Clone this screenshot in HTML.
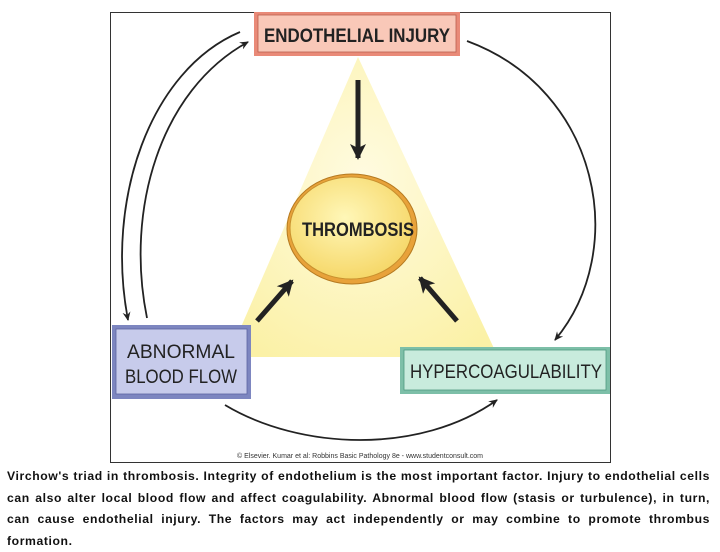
<!DOCTYPE html>
<html><head><style>
body{margin:0;width:720px;height:540px;background:#fff;position:relative;overflow:hidden;font-family:"Liberation Sans",sans-serif}
.cap{position:absolute;left:7px;top:466px;width:703px;font-size:12.2px;font-weight:bold;line-height:21.5px;text-align:justify;text-align-last:left;color:#111;letter-spacing:0.6px}
</style></head><body>
<svg width="720" height="540" style="position:absolute;left:0;top:0">
<defs>
<radialGradient id="tg" cx="50%" cy="40%" r="70%"><stop offset="0" stop-color="#fffbe0"/><stop offset="1" stop-color="#fbf1a6"/></radialGradient>
<radialGradient id="eg" cx="45%" cy="40%" r="60%"><stop offset="0" stop-color="#fff7b8"/><stop offset="1" stop-color="#f6d86a"/></radialGradient>
<marker id="a" markerWidth="10" markerHeight="10" refX="8" refY="5" orient="auto" markerUnits="userSpaceOnUse"><path d="M0,1 L9,5 L0,9 L3,5Z" fill="#222"/></marker>
<marker id="b" markerWidth="18" markerHeight="18" refX="14" refY="9" orient="auto" markerUnits="userSpaceOnUse"><path d="M0,1 L16,9 L0,17 L4,9Z" fill="#222"/></marker>
</defs>
<rect x="110.5" y="12.5" width="500" height="450" fill="#fff" stroke="#333" stroke-width="1"/>
<polygon points="358,57 228,357 498,357" fill="url(#tg)"/>
<path d="M240,32 C150,70 105,200 128,320" fill="none" stroke="#222" stroke-width="1.8" marker-end="url(#a)"/>
<path d="M147,318 C125,210 160,90 248,42" fill="none" stroke="#222" stroke-width="1.8" marker-end="url(#a)"/>
<path d="M467,41 C600,90 630,250 555,340" fill="none" stroke="#222" stroke-width="1.8" marker-end="url(#a)"/>
<path d="M225,405 C300,450 420,455 497,400" fill="none" stroke="#222" stroke-width="1.8" marker-end="url(#a)"/>
<line x1="358" y1="80" x2="358" y2="158" stroke="#222" stroke-width="5" marker-end="url(#b)"/>
<line x1="257" y1="321" x2="292" y2="281" stroke="#222" stroke-width="5" marker-end="url(#b)"/>
<line x1="457" y1="321" x2="420" y2="278" stroke="#222" stroke-width="5" marker-end="url(#b)"/>
<ellipse cx="352" cy="229" rx="65" ry="55" fill="#e8a23a" stroke="#b57a20"/>
<ellipse cx="351" cy="228" rx="61" ry="51" fill="url(#eg)" stroke="#c8902e"/>
<text x="358" y="236" text-anchor="middle" font-family="Liberation Sans" font-weight="bold" font-size="19" fill="#222" textLength="112" lengthAdjust="spacingAndGlyphs">THROMBOSIS</text>
<rect x="254" y="12" width="206" height="44" fill="#e98a78"/>
<rect x="258" y="15" width="198" height="37" fill="#f9c8b8" stroke="#b9604e" stroke-width="0.8"/>
<text x="357" y="42" text-anchor="middle" font-family="Liberation Sans" font-weight="bold" font-size="19" fill="#222" textLength="186" lengthAdjust="spacingAndGlyphs">ENDOTHELIAL INJURY</text>
<rect x="112" y="325" width="139" height="74" fill="#7d86c0"/>
<rect x="116" y="329" width="131" height="65" fill="#c7cbeb" stroke="#5c64a0" stroke-width="0.8"/>
<text x="181" y="358" text-anchor="middle" font-family="Liberation Sans" font-size="19" fill="#222" textLength="108" lengthAdjust="spacingAndGlyphs">ABNORMAL</text>
<text x="181" y="383" text-anchor="middle" font-family="Liberation Sans" font-size="19" fill="#222" textLength="112" lengthAdjust="spacingAndGlyphs">BLOOD FLOW</text>
<rect x="400" y="347" width="210" height="47" fill="#7dbfa8"/>
<rect x="404" y="350" width="202" height="40" fill="#c8ebdd" stroke="#4f9a80" stroke-width="0.8"/>
<text x="506" y="378" text-anchor="middle" font-family="Liberation Sans" font-size="19" fill="#222" textLength="192" lengthAdjust="spacingAndGlyphs">HYPERCOAGULABILITY</text>
<text x="360" y="458" text-anchor="middle" font-family="Liberation Sans" font-size="7" fill="#333">© Elsevier. Kumar et al: Robbins Basic Pathology 8e - www.studentconsult.com</text>
</svg>
<div class="cap">Virchow's triad in thrombosis. Integrity of endothelium is the most important factor. Injury to endothelial cells can also alter local blood flow and affect coagulability. Abnormal blood flow (stasis or turbulence), in turn, can cause endothelial injury. The factors may act independently or may combine to promote thrombus formation.</div>
</body></html>
